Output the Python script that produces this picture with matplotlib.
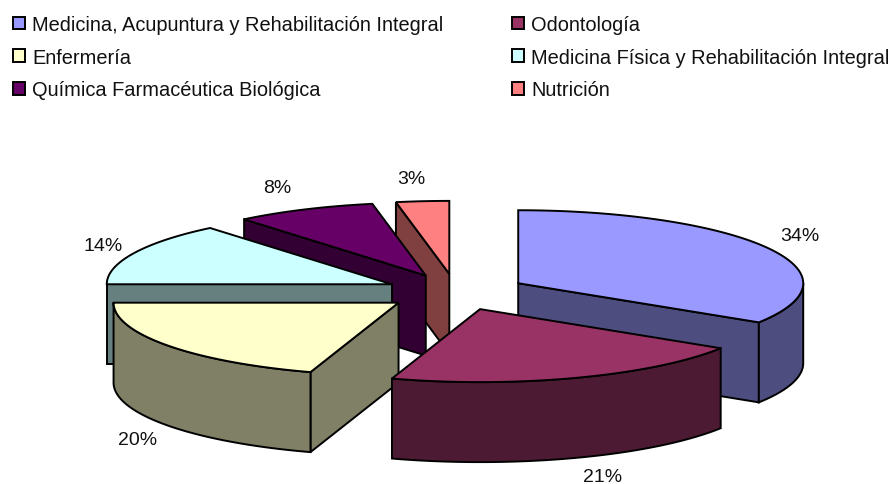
import matplotlib

matplotlib.use("Agg")
import matplotlib.pyplot as plt
import numpy as np
from matplotlib.patches import Patch

plt.rcParams["font.family"] = ["Liberation Sans", "DejaVu Sans"]

categories = [
    "Medicina, Acupuntura y Rehabilitación Integral",
    "Odontología",
    "Enfermería",
    "Medicina Física y Rehabilitación Integral",
    "Química Farmacéutica Biológica",
    "Nutrición",
]
values = [34, 21, 20, 14, 8, 3]
top_colors = ["#9999FF", "#993366", "#FFFFCC", "#CCFFFF", "#660066", "#FF8080"]
side_colors = ["#4D4D80", "#4D1A33", "#808066", "#668080", "#330033", "#804040"]

# pie geometry, in pixels of the 896x485 picture
CX, CY = 456, 293
RX, RY = 285, 73
DEPTH = 80
EXPLODE = 71
draw_order = [5, 4, 3, 2, 0, 1]
label_pos = [(800, 237), (603, 478), (138, 441), (103, 247), (277, 189), (411, 180)]

fig = plt.figure(figsize=(8.96, 4.85), dpi=100)
ax = fig.add_axes([0, 0, 1, 1])
ax.set_xlim(0, 896)
ax.set_ylim(485, 0)
ax.axis("off")

# clockwise angles from 12 o'clock
shares = np.array(values) / sum(values) * 2 * np.pi
ends = np.cumsum(shares)
starts = ends - shares


def rim(ox, oy, t):
    return ox + RX * np.sin(t), oy - RY * np.cos(t)


def face(xs, ys, color, z):
    ax.fill(xs, ys, facecolor=color, edgecolor="black", linewidth=1.4,
            joinstyle="miter", zorder=z)


for z, i in enumerate(draw_order):
    a, b = starts[i], ends[i]
    mid = (a + b) / 2
    ox = CX + EXPLODE * np.sin(mid)
    oy = CY - EXPLODE * RY / RX * np.cos(mid)

    # start wall faces the viewer in the left half, end wall in the right half
    if np.sin(a) < 0:
        x, y = rim(ox, oy, a)
        face([ox, x, x, ox], [oy, y, y + DEPTH, oy + DEPTH], side_colors[i], z)
    if np.sin(b) > 0:
        x, y = rim(ox, oy, b)
        face([ox, x, x, ox], [oy, y, y + DEPTH, oy + DEPTH], side_colors[i], z)

    # outer wall, front part of the rim only
    lo, hi = max(a, np.pi / 2), min(b, 3 * np.pi / 2)
    if hi > lo:
        x, y = rim(ox, oy, np.linspace(lo, hi, 80))
        face(np.r_[x, x[::-1]], np.r_[y, y[::-1] + DEPTH], side_colors[i], z)

    # top
    x, y = rim(ox, oy, np.linspace(a, b, 120))
    face(np.r_[ox, x], np.r_[oy, y], top_colors[i], z)

for v, (lx, ly) in zip(values, label_pos):
    ax.text(lx, ly, f"{v}%", ha="center", va="center", fontsize=14,
            color="#111111", zorder=20)

handles = [Patch(facecolor=c, edgecolor="black", linewidth=1.4) for c in top_colors]
order = [0, 2, 4, 1, 3, 5]
ax.legend(
    [handles[i] for i in order],
    [categories[i] for i in order],
    ncol=2,
    loc="upper left",
    bbox_to_anchor=(-5 / 896, 1 + 2 / 485),
    frameon=False,
    fontsize=14.4,
    handlelength=0.6,
    handleheight=0.6,
    handletextpad=0.35,
    labelspacing=0.68,
    columnspacing=3.45,
    borderpad=0.4,
    labelcolor="#111111",
)

fig.savefig("out.png", dpi=100)
